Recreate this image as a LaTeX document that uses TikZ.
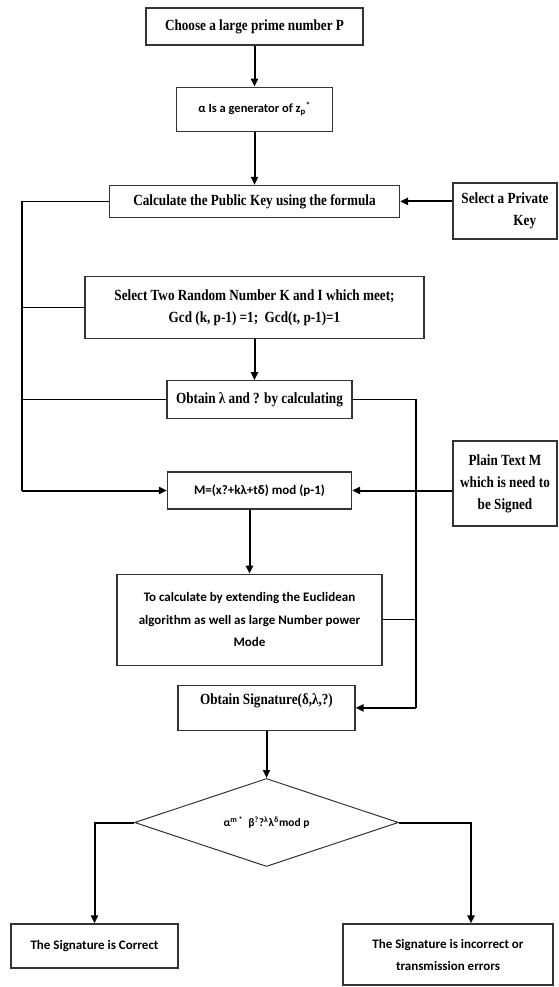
\documentclass[tikz,border=0pt]{standalone}
\usepackage{fontspec}
\setmainfont{Liberation Serif}
\newfontfamily\capfont[FakeStretch=0.85]{Liberation Serif}
\newfontfamily\calfont{Carlito}
\usetikzlibrary{arrows.meta,shapes.geometric,positioning,calc}

\begin{document}
\begin{tikzpicture}[
  x=1pt,y=-1pt,
  sbox/.style ={rectangle,draw=black!80,line width=1.2pt,align=center,inner sep=2pt,
                font=\capfont\bfseries\fontsize{15.5}{22}\selectfont},
  cbox/.style ={rectangle,draw=black!80,line width=1.2pt,align=center,inner sep=2pt,
                font=\calfont\bfseries\fontsize{13}{22}\selectfont},
  chkbox/.style={diamond,draw=black!80,line width=1pt,aspect=3,inner sep=0pt,
                font=\calfont\bfseries\fontsize{11.5}{22}\selectfont},
  line/.style ={line width=1.1pt},
  arrow/.style={-{Triangle[length=8pt,width=7pt]},line width=2pt},
]
\useasboundingbox (0,0) rectangle (558,987);
% main column
\node[sbox,minimum width=217pt,minimum height=37pt] (prime) at (254.5,26.5) {Choose a large prime number P};
\node[cbox,minimum width=156pt,minimum height=44pt,below=41pt of prime,font=\calfont\bfseries\fontsize{12.5}{22}\selectfont] (gen) {α Is a generator of z\textsubscript{p}\textsuperscript{*}};
\node[sbox,minimum width=290pt,minimum height=32pt,below=53pt of gen] (pub) {Calculate the Public Key using the formula};
\node[sbox,minimum width=339pt,minimum height=62pt,below=58pt of pub] (rnd) {Select Two Random Number K and I which meet;\\Gcd (k, p-1) =1;\ \ Gcd(t, p-1)=1};
\node[sbox,minimum width=185pt,minimum height=38pt,below=41pt of rnd,xshift=5pt] (lam) {Obtain λ and ? by calculating};
\node[cbox,minimum width=184pt,minimum height=37pt,below=52pt of lam] (mod) {M=(x?+kλ+tδ) mod (p-1)};
\node[cbox,minimum width=265pt,minimum height=91pt,below=64pt of mod,xshift=-10pt,font=\calfont\bfseries\fontsize{13}{22.5}\selectfont] (euc) {To calculate by extending the Euclidean\\algorithm as well as large Number power\\Mode};
\node[sbox,minimum width=177pt,minimum height=45pt,text depth=18pt,below=19pt of euc,xshift=17pt] (sig) {Obtain Signature(δ,λ,?)};
\node[chkbox,minimum width=264pt,minimum height=88pt,below=47pt of sig] (chk) {α\textsuperscript{m *}\ \ β\textsuperscript{?}?\textsuperscript{λ}λ\textsuperscript{δ}mod p};
% side boxes and results
\node[sbox,minimum width=104pt,minimum height=56pt,align=left] (priv) at (505,211) {Select a Private\\\hspace*{52pt}Key};
\node[sbox,minimum width=104pt,minimum height=85pt] (plain) at (505,483.5) {Plain Text M\\which is need to\\be Signed};
\node[cbox,minimum width=167pt,minimum height=44pt] (ok) at (94.5,946) {The Signature is Correct};
\node[cbox,minimum width=210pt,minimum height=61pt] (bad) at (448,954.5) {The Signature is incorrect or\\transmission errors};
\coordinate (lbus) at (22,0);
\coordinate (rbus) at (416,0);
% connectors
\draw[arrow] (prime) -- (gen);
\draw[arrow] (gen) -- (pub);
\draw[arrow] (pub.east -| priv.west) -- (pub.east);
\draw[line] (pub.west) -| (mod.west -| lbus);
\draw[line] (rnd.west) -- (rnd.west -| lbus);
\draw[line] (lam.west) -- (lam.west -| lbus);
\draw[arrow] (rnd.south) -- (rnd.south |- lam.north);
\draw[arrow] (mod.west -| lbus) -- (mod.west);
\draw[arrow] (mod.east -| plain.west) -- (mod.east);
\draw[line] (lam.east) -| (sig.east -| rbus);
\draw[line] (euc.east) -- (euc.east -| rbus);
\draw[arrow] (sig.east -| rbus) -- (sig.east);
\draw[arrow] (euc.north |- mod.south) -- (euc.north);
\draw[arrow] (sig) -- (chk);
\draw[arrow] (chk.west) -| (ok.north);
\draw[arrow] (chk.east) -| ($(bad.north)+(23,0)$);
\end{tikzpicture}
\end{document}
